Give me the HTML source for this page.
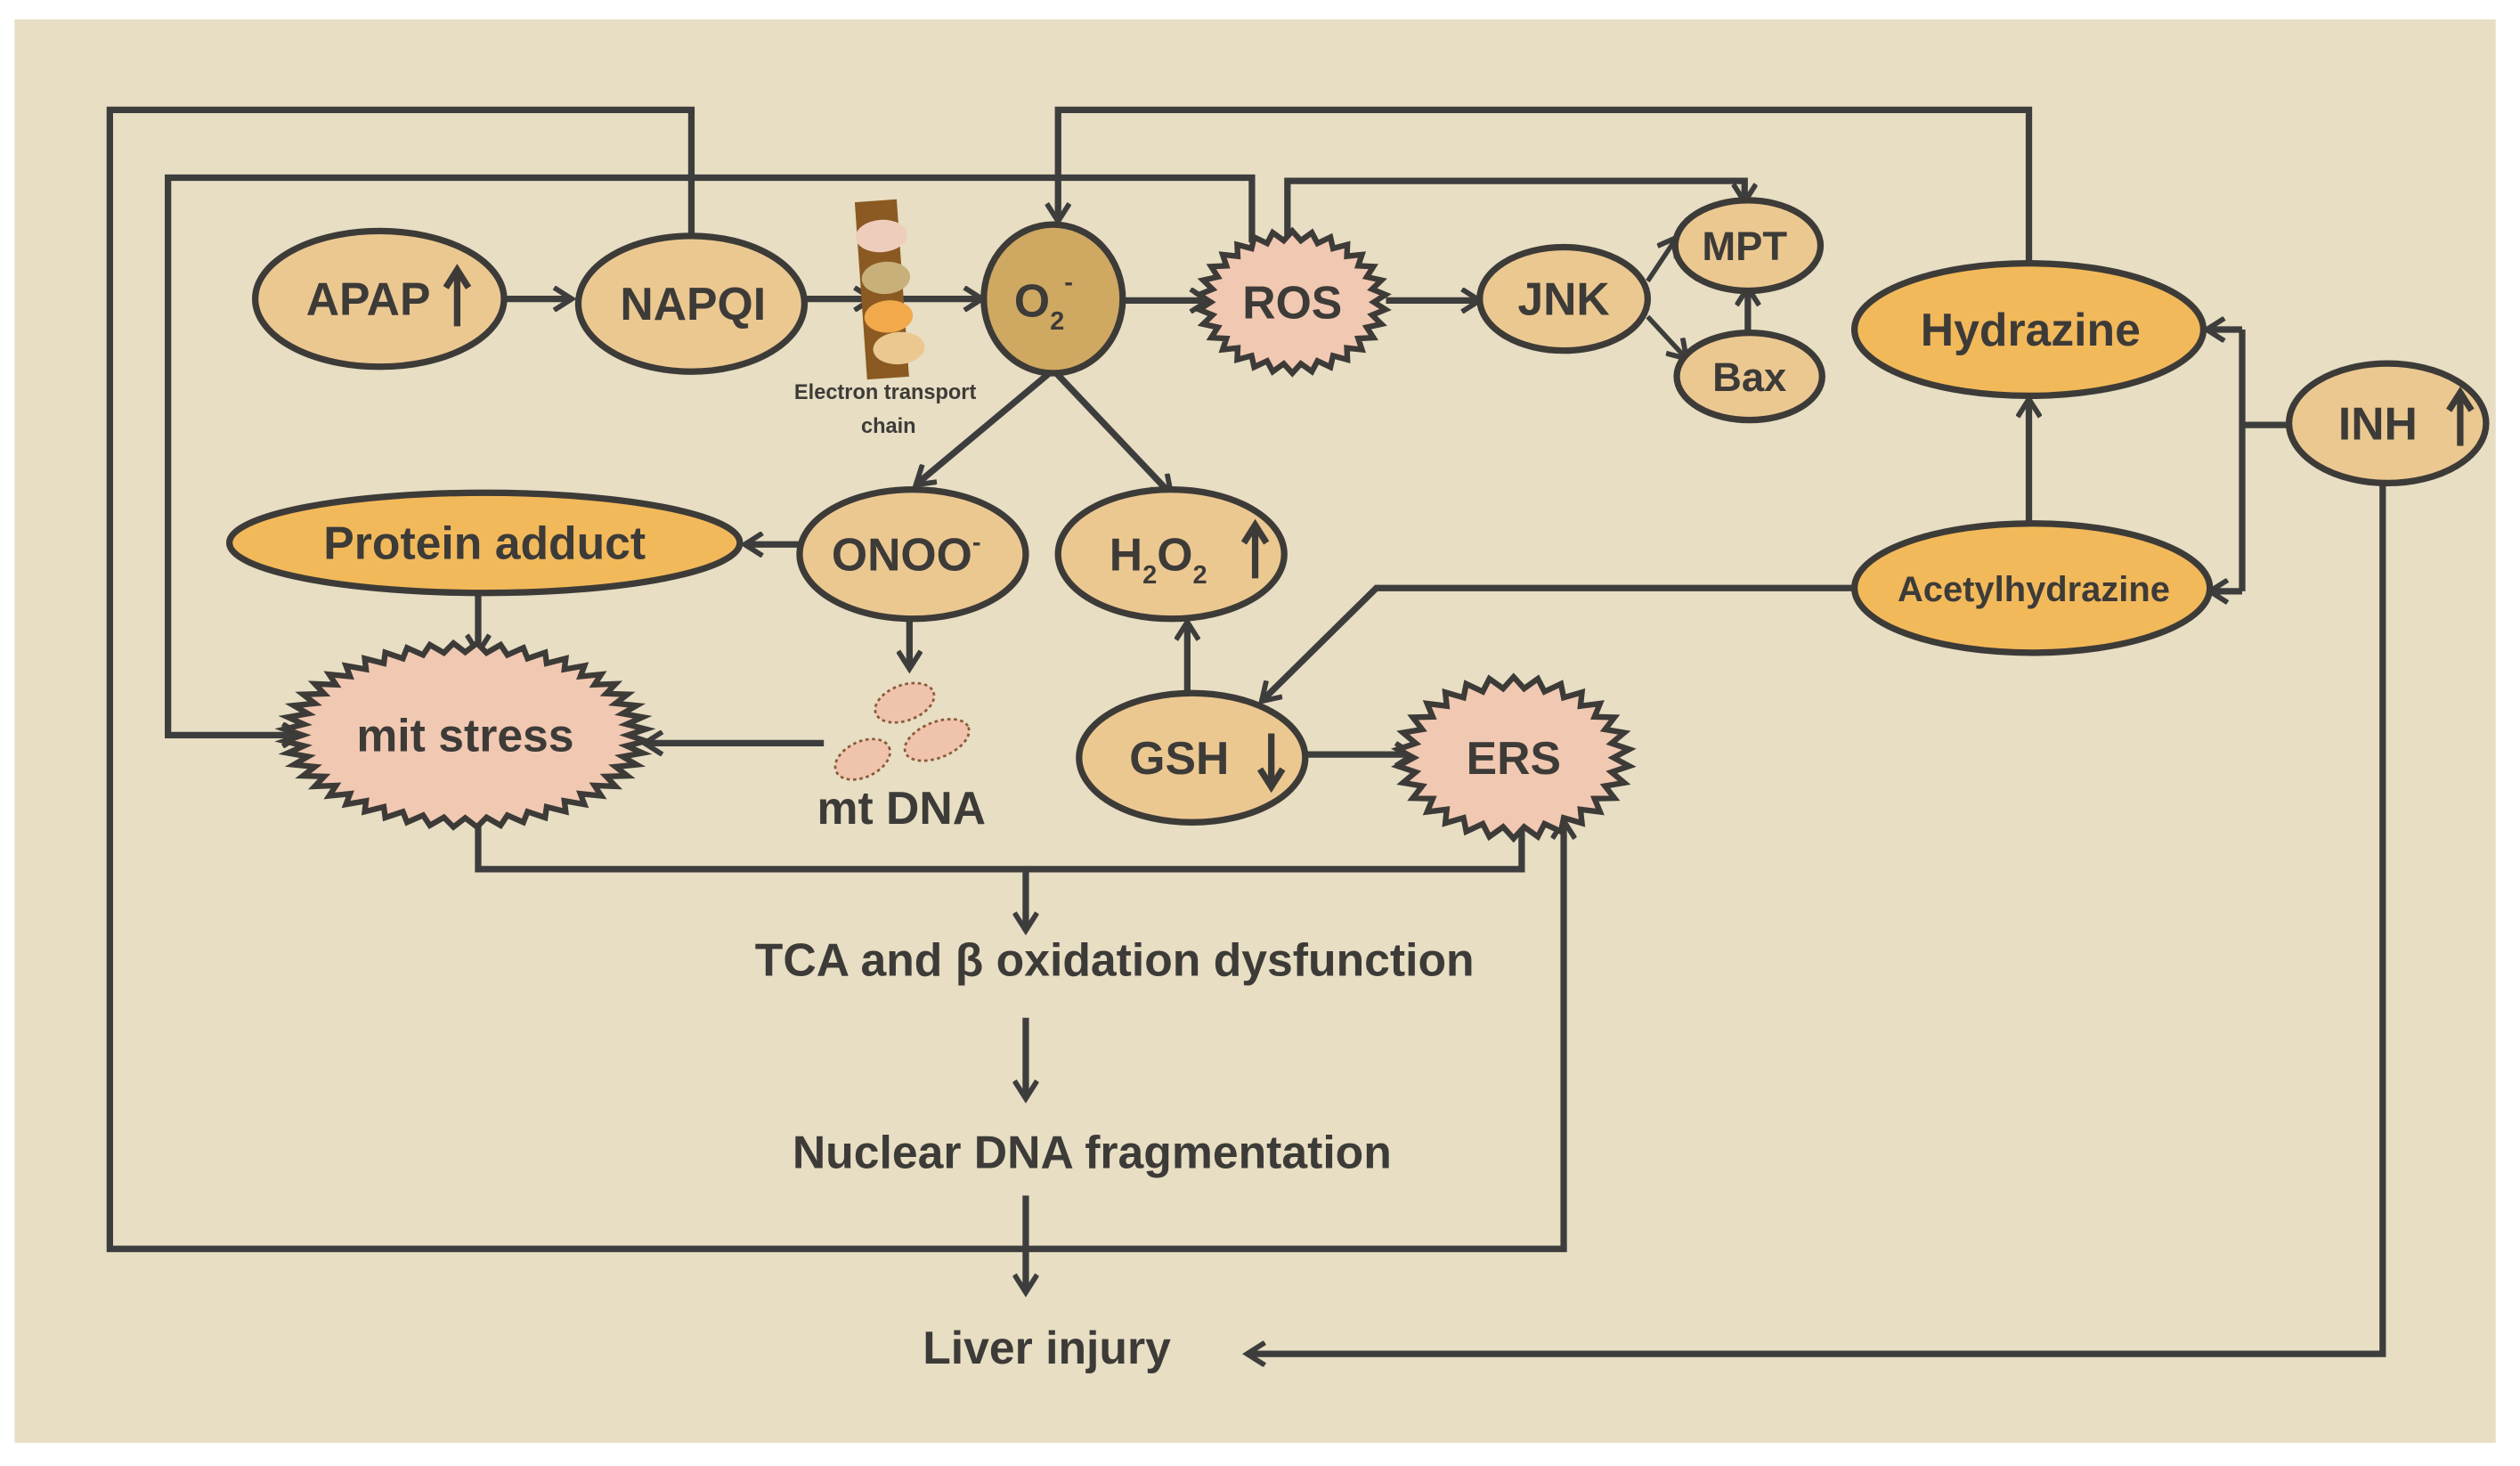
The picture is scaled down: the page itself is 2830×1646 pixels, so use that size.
<!DOCTYPE html>
<html><head><meta charset="utf-8"><style>
html,body{margin:0;padding:0;background:#fff;width:2830px;height:1646px;overflow:hidden}
svg{display:block}
text{font-family:"Liberation Sans",Arial,sans-serif;font-weight:bold;fill:#3d3b38}
</style></head><body>
<svg width="2830" height="1646" viewBox="0 0 1560 907.4" preserveAspectRatio="none" xmlns="http://www.w3.org/2000/svg">
<defs>
<marker id="a" markerWidth="16" markerHeight="16" refX="13" refY="8" orient="auto" markerUnits="userSpaceOnUse" viewBox="0 0 16 16">
<polyline points="2,1 13,8 2,15" fill="none" stroke="#3d3d3d" stroke-width="3.2" stroke-linejoin="miter"/>
</marker>
</defs>
<rect x="0" y="0" width="1560" height="907.4" fill="#fff"/>
<rect x="9" y="12" width="1536" height="881" fill="#e7dec3"/>
<g fill="none" stroke="#3d3d3d" stroke-width="4" stroke-linejoin="miter">
<polyline points="428,146 428,68 68,68 68,773 968,773 968,508" marker-end="url(#a)"/>
<polyline points="775,150 775,110 104,110 104,455 186,455" marker-end="url(#a)"/>
<polyline points="797,148 797,112 1080,112 1080,125" marker-end="url(#a)"/>
<polyline points="1256,162 1256,68 655,68 655,137" marker-end="url(#a)"/>
<polyline points="1416,263 1388,263"/>
<polyline points="1388,204 1388,366"/>
<polyline points="1388,204 1366,204" marker-end="url(#a)"/>
<polyline points="1388,366 1368,366" marker-end="url(#a)"/>
<polyline points="1256,323 1256,247" marker-end="url(#a)"/>
<polyline points="1148,364 852,364 781,434" marker-end="url(#a)"/>
<polyline points="1475,300 1475,838 772,838" marker-end="url(#a)"/>
<line x1="312" y1="185" x2="354" y2="185" marker-end="url(#a)"/>
<line x1="498" y1="185" x2="540" y2="185" marker-end="url(#a)"/>
<line x1="556" y1="185" x2="608" y2="185" marker-end="url(#a)"/>
<line x1="696" y1="186" x2="748" y2="186" marker-end="url(#a)"/>
<line x1="858" y1="186" x2="916" y2="186" marker-end="url(#a)"/>
<line x1="1020" y1="174" x2="1038" y2="147" stroke-width="3" marker-end="url(#a)"/>
<line x1="1020" y1="196" x2="1044" y2="222" stroke-width="3" marker-end="url(#a)"/>
<line x1="1082" y1="205" x2="1082" y2="178" marker-end="url(#a)"/>
<line x1="652" y1="229" x2="567" y2="300" marker-end="url(#a)"/>
<line x1="652" y1="229" x2="725" y2="306" marker-end="url(#a)"/>
<line x1="495" y1="337" x2="461" y2="337" marker-end="url(#a)"/>
<line x1="296" y1="368" x2="296" y2="404" marker-end="url(#a)"/>
<line x1="563" y1="384" x2="563" y2="414" marker-end="url(#a)"/>
<line x1="510" y1="460" x2="399" y2="460" marker-end="url(#a)"/>
<line x1="735" y1="428" x2="735" y2="385" marker-end="url(#a)"/>
<line x1="808" y1="467" x2="875" y2="467" marker-end="url(#a)"/>
<polyline points="296,505 296,538 942,538 942,512"/>
<line x1="635" y1="538" x2="635" y2="576" marker-end="url(#a)"/>
<line x1="635" y1="630" x2="635" y2="680" marker-end="url(#a)"/>
<line x1="635" y1="740" x2="635" y2="800" marker-end="url(#a)"/>
</g>
<g stroke="#3d3b38" stroke-width="4">
<ellipse cx="235" cy="185" rx="77" ry="42" fill="#ecc891"/>
<ellipse cx="428" cy="188" rx="70" ry="42" fill="#ecc891"/>
<ellipse cx="652" cy="185" rx="43" ry="46" fill="#cfa862"/>
<ellipse cx="968" cy="185" rx="52" ry="32" fill="#ecc891"/>
<ellipse cx="1082" cy="152" rx="45" ry="28" fill="#ecc891"/>
<ellipse cx="1083" cy="233" rx="45" ry="27" fill="#ecc891"/>
<ellipse cx="1256" cy="204" rx="108" ry="41" fill="#f2b95a"/>
<ellipse cx="1478" cy="262" rx="61" ry="37" fill="#ecc891"/>
<ellipse cx="1258" cy="364" rx="110" ry="40" fill="#f2b95a"/>
<ellipse cx="300" cy="336" rx="158" ry="31" fill="#f2b95a"/>
<ellipse cx="565" cy="343" rx="70" ry="40" fill="#ecc891"/>
<ellipse cx="725" cy="343" rx="70" ry="40" fill="#ecc891"/>
<ellipse cx="738" cy="469" rx="70" ry="40" fill="#ecc891"/>
</g>
<g id="stars" fill="#f1c8b1" stroke="#3d3b38" stroke-width="3.5" stroke-linejoin="miter"></g>
<g transform="rotate(-4 548 180)">
<rect x="533" y="124" width="26" height="110" fill="#8a5a22"/>
<ellipse cx="548" cy="146" rx="16" ry="10" fill="#efcdbd"/>
<ellipse cx="549" cy="172" rx="15" ry="10" fill="#c8b07a"/>
<ellipse cx="549" cy="196" rx="15" ry="10" fill="#f1a94c"/>
<ellipse cx="554" cy="216" rx="16" ry="10" fill="#ecc891"/>
</g>
<g fill="#f0c3ac" stroke="#8a5a3a" stroke-width="1.5" stroke-dasharray="2 2">
<ellipse cx="560" cy="435" rx="19" ry="11" transform="rotate(-20 560 435)"/>
<ellipse cx="580" cy="458" rx="21" ry="11" transform="rotate(-22 580 458)"/>
<ellipse cx="534" cy="470" rx="18" ry="11" transform="rotate(-25 534 470)"/>
</g>
<g font-size="28.5" text-anchor="middle">
<text x="228" y="195">APAP</text>
<text x="429" y="198">NAPQI</text>
<text x="646" y="196">O<tspan font-size="16" dy="8">2</tspan><tspan font-size="16" dy="-24">-</tspan></text>
<text x="800" y="197">ROS</text>
<text x="968" y="195">JNK</text>
<text x="1080" y="161" font-size="25">MPT</text>
<text x="1083" y="242" font-size="25">Bax</text>
<text x="1257" y="214">Hydrazine</text>
<text x="1472" y="272">INH</text>
<text x="1259" y="372" font-size="22">Acetylhydrazine</text>
<text x="300" y="346">Protein adduct</text>
<text x="561" y="353">ONOO<tspan font-size="16" dy="-12">-</tspan></text>
<text x="717" y="353">H<tspan font-size="16" dy="8">2</tspan><tspan dy="-8">O</tspan><tspan font-size="16" dy="8">2</tspan></text>
<text x="288" y="465">mit stress</text>
<text x="558" y="510">mt DNA</text>
<text x="730" y="479">GSH</text>
<text x="937" y="479">ERS</text>
<text x="690" y="604">TCA and β oxidation dysfunction</text>
<text x="676" y="723">Nuclear DNA fragmentation</text>
<text x="648" y="844">Liver injury</text>
<text x="548" y="247" font-size="13">Electron transport</text>
<text x="550" y="268" font-size="13">chain</text>
</g>
<g stroke="#3d3b38" stroke-width="4" fill="none">
<line x1="283" y1="202" x2="283" y2="170"/><polyline points="276,178 283,167 290,178"/>
<line x1="777" y1="358" x2="777" y2="328"/><polyline points="770,336 777,325 784,336"/>
<line x1="1523" y1="276" x2="1523" y2="246"/><polyline points="1516,254 1523,243 1530,254"/>
<line x1="787" y1="454" x2="787" y2="484"/><polyline points="780,476 787,487 794,476"/>
</g>
<script>
function star(cx,cy,rx,ry,n,d){var p=[];for(var i=0;i<2*n;i++){var t=Math.PI*i/n;var k=(i%2)?1:1-d;p.push((cx+rx*k*Math.cos(t)).toFixed(1)+','+(cy+ry*k*Math.sin(t)).toFixed(1));}return p.join(' ');}
var g=document.getElementById('stars');
[[800,187,58,44,30,0.13],[288,455,112,57,48,0.1],[937,469,72,50,30,0.14]].forEach(function(s){
var e=document.createElementNS('http://www.w3.org/2000/svg','polygon');e.setAttribute('points',star.apply(null,s));g.appendChild(e);});
</script>
</svg>
</body></html>
